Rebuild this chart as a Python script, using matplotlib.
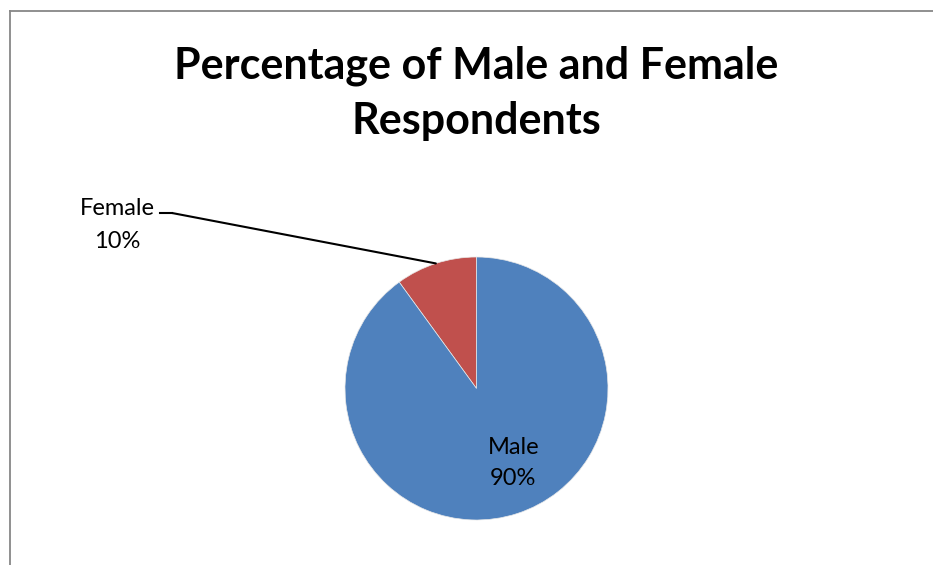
import matplotlib
matplotlib.use("Agg")
import matplotlib.pyplot as plt
from matplotlib.lines import Line2D
import numpy as np

# data
labels = ["Female", "Male"]
values = [10, 90]
colors = ["#C0504D", "#4F81BD"]
title = "Percentage of Male and Female\nRespondents"

W, H = 933, 565
fig = plt.figure(figsize=(W / 100, H / 100), dpi=100)
plt.rcParams["font.family"] = ["Lato", "DejaVu Sans"]

# outer chart frame (cropped on right and bottom)
fig.add_artist(Line2D([9.5 / W, 9.5 / W], [0, 1 - 11 / H], color="#878787", lw=1.3))
fig.add_artist(Line2D([9.5 / W, 1], [1 - 11 / H, 1 - 11 / H], color="#878787", lw=1.3))

fig.text(476 / W, 1 - 93 / H, title, ha="center", va="center",
         fontsize=31, fontweight="bold", linespacing=1.45)

# pie axes: circle spans 345..608 px horizontally, 257..520 px vertically
ax = fig.add_axes([345 / W, (H - 520) / H, 263 / W, 263 / H])
wedges, _ = ax.pie(values, colors=colors, startangle=90, counterclock=True,
                   wedgeprops=dict(linewidth=0.5, edgecolor="#E8E8E8"))
ax.set_xlim(-1, 1)
ax.set_ylim(-1, 1)
ax.axis("off")

# female label with leader line
fw = wedges[0]
mid = np.deg2rad((fw.theta1 + fw.theta2) / 2)
ax.annotate("", xy=(np.cos(mid), np.sin(mid)), xycoords="data",
            xytext=(172 / W, 1 - 213 / H), textcoords="figure fraction",
            arrowprops=dict(arrowstyle="-", color="black", lw=1.5,
                            shrinkA=0, shrinkB=0))
fig.add_artist(Line2D([160 / W, 172 / W], [1 - 213 / H, 1 - 213 / H], color="black", lw=1.5))
fig.text(117 / W, 1 - 225 / H, "%s\n%d%%" % (labels[0], values[0]), ha="center", va="center",
         fontsize=17, linespacing=1.65)

# male label inside wedge
ax.text(0.28, -0.565, "%s\n%d%%" % (labels[1], values[1]), ha="center", va="center",
        fontsize=17, linespacing=1.6, color="black")

fig.savefig("out.png", dpi=100)
